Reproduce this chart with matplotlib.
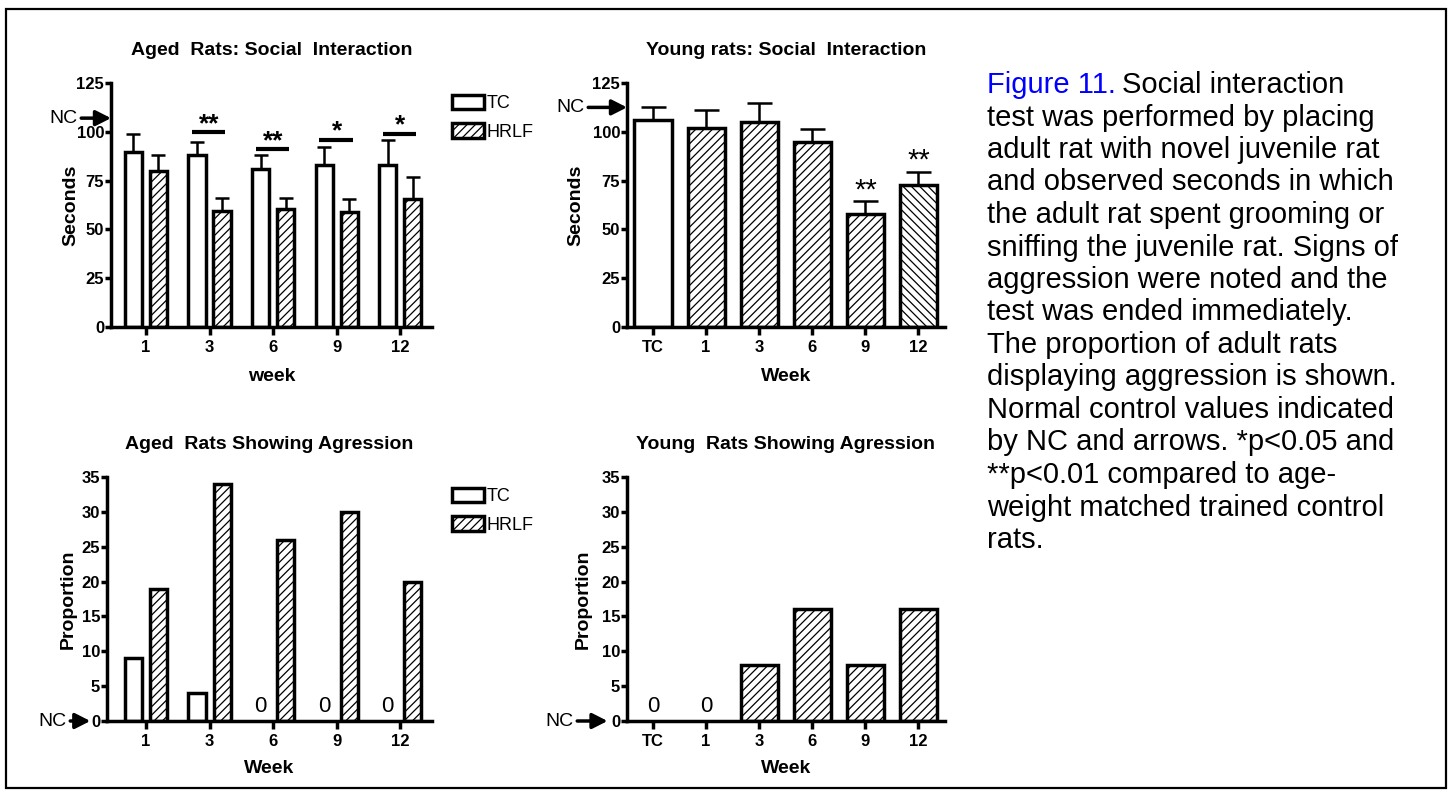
import matplotlib
matplotlib.use("Agg")
import matplotlib.pyplot as plt
import matplotlib.patches as patches
import numpy as np

plt.rcParams['font.family'] = ['Liberation Sans', 'DejaVu Sans']
plt.rcParams['hatch.linewidth'] = 0.9

# aged rats, social interaction (seconds)
aged_weeks = ['1', '3', '6', '9', '12']
aged_tc = [89.5, 88, 81, 83, 83]
aged_tc_sem = [9.5, 7, 7, 9, 13]
aged_hrlf = [80, 59.5, 60.5, 59, 65.5]
aged_hrlf_sem = [8, 6.5, 5.5, 6.5, 11.5]
aged_sig_weeks = ['3', '6', '9', '12']
aged_sig_y = [100, 91, 96, 99]
aged_sig_txt = ['**', '**', '*', '*']
aged_nc = 107

# young rats, social interaction (seconds)
young_groups = ['TC', '1', '3', '6', '9', '12']
young_vals = [106, 102, 105, 95, 58, 73]
young_sem = [6.5, 9, 10, 6.5, 6.5, 6.5]
young_hatch = ['', '////', '////', '////', '////', '\\\\\\\\']
young_sig = ['', '', '', '', '**', '**']
young_nc = 112.5

# proportion showing aggression
aged_agg_tc = [9, 4, 0, 0, 0]
aged_agg_hrlf = [19, 34, 26, 30, 20]
young_agg = [0, 0, 8, 16, 8, 16]
young_agg_hatch = ['', '', '////', '////', '////', '////']

caption = [
    "test was performed by placing",
    "adult rat with novel juvenile rat",
    "and observed seconds in which",
    "the adult rat spent grooming or",
    "sniffing the juvenile rat. Signs of",
    "aggression were noted and the",
    "test was ended immediately.",
    "The proportion of adult rats",
    "displaying aggression is shown.",
    "Normal control values indicated",
    "by NC and arrows. *p<0.05 and",
    "**p<0.01 compared to age-",
    "weight matched trained control",
    "rats.",
]

W, H = 1453, 794
fig = plt.figure(figsize=(W / 100, H / 100), dpi=100)

def px_axes(left, right, top, bottom):
    return fig.add_axes([left / W, 1 - bottom / H, (right - left) / W, (bottom - top) / H])

LW = 2.5
TICKFS = 12
LABFS = 14
TITFS = 14

def style(ax, ymax, ystep, title, xlabel, ylabel, xlab_pad, ylab_x):
    ax.spines[['top', 'right']].set_visible(False)
    ax.spines[['left', 'bottom']].set_linewidth(LW)
    ax.set_ylim(0, ymax)
    ax.set_yticks(np.arange(0, ymax + 1, ystep))
    ax.tick_params(axis='y', length=4, width=LW, pad=1, labelsize=TICKFS)
    ax.tick_params(axis='x', length=6, width=LW, pad=3, labelsize=TICKFS)
    for lab in ax.get_xticklabels() + ax.get_yticklabels():
        lab.set_fontweight('bold')
    ax.set_title(title, fontsize=TITFS, fontweight='bold', pad=20)
    ax.set_xlabel(xlabel, fontsize=LABFS, fontweight='bold', labelpad=xlab_pad)
    ax.set_ylabel(ylabel, fontsize=LABFS, fontweight='bold')
    ax.yaxis.set_label_coords(ylab_x, 0.5)

def nc_arrow(ax, y, dx, pad=0):
    ax.annotate('NC', xy=(0, y), xycoords=ax.get_yaxis_transform(),
                xytext=(-dx, 0), textcoords='offset pixels', ha='center', va='center',
                fontsize=14,
                arrowprops=dict(arrowstyle='-|>,head_length=0.65,head_width=0.33',
                                lw=2.5, color='black', shrinkA=1, shrinkB=pad),
                annotation_clip=False)

def legend(ax, handles, top):
    ax.legend(handles, ['TC', 'HRLF'], loc='upper left',
              bbox_to_anchor=(452 / W, 1 - top / H), bbox_transform=fig.transFigure,
              frameon=False, borderpad=0, handlelength=1.75, handleheight=0.85,
              labelspacing=0.6, handletextpad=0.15, borderaxespad=0,
              prop={'size': 13})

bw = 0.27
off = 0.197

# panel 1
ax1 = px_axes(111, 432, 83, 327)
x = np.arange(len(aged_weeks))
b1 = ax1.bar(x - off, aged_tc, bw, color='white', edgecolor='black', lw=LW)
b2 = ax1.bar(x + off, aged_hrlf, bw, color='white', edgecolor='black', lw=LW, hatch='////')
ax1.errorbar(x - off, aged_tc, yerr=[np.zeros(len(x)), aged_tc_sem], fmt='none',
             ecolor='black', elinewidth=1.8, capsize=5, capthick=1.8)
ax1.errorbar(x + off, aged_hrlf, yerr=[np.zeros(len(x)), aged_hrlf_sem], fmt='none',
             ecolor='black', elinewidth=1.8, capsize=5, capthick=1.8)
for wk, yy, s in zip(aged_sig_weeks, aged_sig_y, aged_sig_txt):
    i = aged_weeks.index(wk)
    ax1.plot([i - 0.27, i + 0.25], [yy, yy], color='black', lw=3, solid_capstyle='butt')
    ax1.text(i, yy + 0.5, s, ha='center', va='baseline', fontsize=19, fontweight='bold')
ax1.set_xticks(x, aged_weeks)
ax1.set_xlim(-0.55, 4.5)
style(ax1, 125, 25, 'Aged  Rats: Social  Interaction', 'week', 'Seconds', 10, -0.10)
nc_arrow(ax1, aged_nc, 48)
legend(ax1, [b1, b2], 95)

# panel 2
ax2 = px_axes(627, 945, 83, 327)
x = np.arange(len(young_groups))
bars = ax2.bar(x, young_vals, 0.7, color='white', edgecolor='black', lw=LW)
for b, h in zip(bars, young_hatch):
    b.set_hatch(h)
ax2.errorbar(x, young_vals, yerr=[np.zeros(len(x)), young_sem], fmt='none',
             ecolor='black', elinewidth=1.8, capsize=9, capthick=1.8)
for i, s in enumerate(young_sig):
    if s:
        ax2.text(i, young_vals[i] + young_sem[i] + 1.5, s, ha='center', va='baseline', fontsize=21)
ax2.set_xticks(x, young_groups)
ax2.set_xlim(-0.49, 5.5)
style(ax2, 125, 25, 'Young rats: Social  Interaction', 'Week', 'Seconds', 10, -0.135)
nc_arrow(ax2, young_nc, 57)

# panel 3
ax3 = px_axes(107, 432, 477, 721)
x = np.arange(len(aged_weeks))
b1 = ax3.bar(x - off, aged_agg_tc, bw, color='white', edgecolor='black', lw=LW)
b2 = ax3.bar(x + off, aged_agg_hrlf, bw, color='white', edgecolor='black', lw=LW, hatch='////')
for i, v in enumerate(aged_agg_tc):
    if v == 0:
        b1[i].set_visible(False)
        ax3.text(i - off, 0.6, '0', ha='center', va='bottom', fontsize=16)
ax3.set_xticks(x, aged_weeks)
ax3.set_xlim(-0.614, 4.5)
style(ax3, 35, 5, 'Aged  Rats Showing Agression', 'Week', 'Proportion', 8, -0.092)
nc_arrow(ax3, 0, 55, pad=12)
legend(ax3, [b1, b2], 488)

# panel 4
ax4 = px_axes(627, 945, 477, 721)
x = np.arange(len(young_groups))
bars = ax4.bar(x, young_agg, 0.7, color='white', edgecolor='black', lw=LW)
for i, (b, h) in enumerate(zip(bars, young_agg_hatch)):
    b.set_hatch(h)
    if young_agg[i] == 0:
        b.set_visible(False)
        ax4.text(i, 0.6, '0', ha='center', va='bottom', fontsize=16)
ax4.set_xticks(x, young_groups)
ax4.set_xlim(-0.49, 5.5)
style(ax4, 35, 5, 'Young  Rats Showing Agression', 'Week', 'Proportion', 8, -0.11)
nc_arrow(ax4, 0, 68, pad=14)

# caption
t0 = fig.text(987 / W, 1 - 93 / H, 'Figure 11.', color='#0000ff', fontsize=21, va='baseline')
fig.canvas.draw()
bb = t0.get_window_extent()
fig.text(bb.x1 / W + 6 / W, 1 - 93 / H, 'Social interaction', fontsize=21, va='baseline')
for k, line in enumerate(caption):
    fig.text(987 / W, 1 - (93 + 32.5 * (k + 1)) / H, line, fontsize=21, va='baseline')

fig.add_artist(patches.Rectangle((6 / W, 6 / H), 1440 / W, 779 / H, transform=fig.transFigure,
                                 fill=False, lw=1.6, edgecolor='black'))

fig.savefig('out.png', dpi=100)
